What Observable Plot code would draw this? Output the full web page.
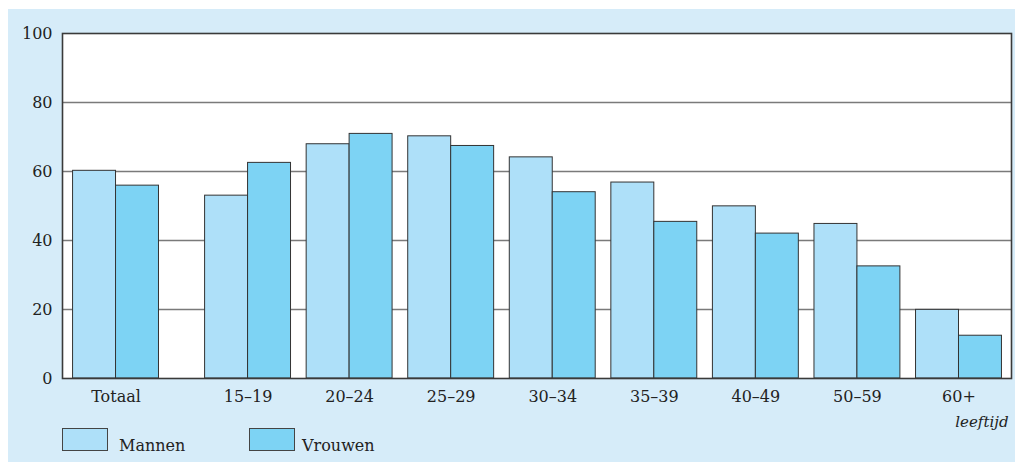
<!DOCTYPE html>
<html>
<head>
<meta charset="utf-8">
<script src="https://cdn.jsdelivr.net/npm/d3@7"></script>
<script src="https://cdn.jsdelivr.net/npm/@observablehq/plot@0.6"></script>
<style>
  html, body { margin: 0; padding: 0; background: white; }
  body { width: 1015px; height: 462px; position: relative; overflow: hidden; font-family: "DejaVu Serif", serif; }
  #panel { position: absolute; left: 8px; top: 9px; right: 0; bottom: 0; background: #d6ecf9; }
  #chart { position: absolute; left: 0; top: 0; }
  #legend { position: absolute; left: 0; top: 428px; width: 1015px; height: 30px; font-size: 16px; color: #222; }
  .box { position: absolute; top: 0; width: 44px; height: 21px; border: 1.2px solid #444; }
  .lab { position: absolute; top: 6px; line-height: 23px; }
</style>
</head>
<body>
<div id="panel"></div>
<div id="chart"></div>
<div id="legend">
  <div class="box" style="left:62px;background:#aee0f9"></div>
  <div class="lab" style="left:119px">Mannen</div>
  <div class="box" style="left:249px;background:#7dd3f4"></div>
  <div class="lab" style="left:302px">Vrouwen</div>
</div>
<script>
const groups = ["Totaal", "15–19", "20–24", "25–29", "30–34", "35–39", "40–49", "50–59", "60+"];
const mannen = [60.2, 53.0, 67.9, 70.2, 64.1, 56.8, 49.9, 44.8, 19.9];
const vrouwen = [55.9, 62.5, 70.9, 67.4, 54.0, 45.4, 42.0, 32.5, 12.4];
const series = ["Mannen", "Vrouwen"];
const colors = ["#aee0f9", "#7dd3f4"];
const yTicks = [0, 20, 40, 60, 80, 100];
const gridTicks = [20, 40, 60, 80];

// layout: Totaal stands apart from the age groups
const gapAfterTotaal = 0.3;
const barWidth = 0.423;
const pos = groups.map((g, i) => i === 0 ? 0 : i + gapAfterTotaal);

const rows = [];
groups.forEach((g, i) => {
  rows.push({group: g, series: "Mannen", value: mannen[i], x1: pos[i] - barWidth, x2: pos[i]});
  rows.push({group: g, series: "Vrouwen", value: vrouwen[i], x1: pos[i], x2: pos[i] + barWidth});
});

const labelOf = new Map(pos.map((p, i) => [p, groups[i]]));

const chart = Plot.plot({
  width: 1015,
  height: 432,
  marginLeft: 62,
  marginRight: 4,
  marginTop: 33,
  marginBottom: 54,
  style: {background: "transparent", fontFamily: "'DejaVu Serif', serif", fontSize: "16px", color: "#222"},
  x: {type: "linear", domain: [-0.527, 8.817], axis: null, label: null},
  y: {domain: [0, 100], axis: null, label: null},
  color: {domain: series, range: colors},
  marks: [
    Plot.frame({fill: "white", stroke: null}),
    Plot.ruleY(gridTicks, {stroke: "#7a7a7a", strokeWidth: 1.6}),
    Plot.rectY(rows, {x1: "x1", x2: "x2", y1: 0, y2: "value", fill: "series", stroke: "#333", strokeWidth: 1}),
    Plot.frame({stroke: "#3a3a3a", strokeWidth: 1.6}),
    Plot.axisY({ticks: yTicks, tickSize: 0, tickPadding: 10, fontSize: 16, label: null}),
    Plot.axisX({ticks: pos, tickSize: 0, tickPadding: 12, fontSize: 16, label: null, tickFormat: d => labelOf.get(d)}),
    Plot.text(["leeftijd"], {frameAnchor: "bottom-right", text: d => d, textAnchor: "end", lineAnchor: "middle", dy: 44, dx: -3, fontStyle: "italic", fontSize: 15})
  ]
});
document.getElementById("chart").appendChild(chart);
</script>
</body>
</html>
